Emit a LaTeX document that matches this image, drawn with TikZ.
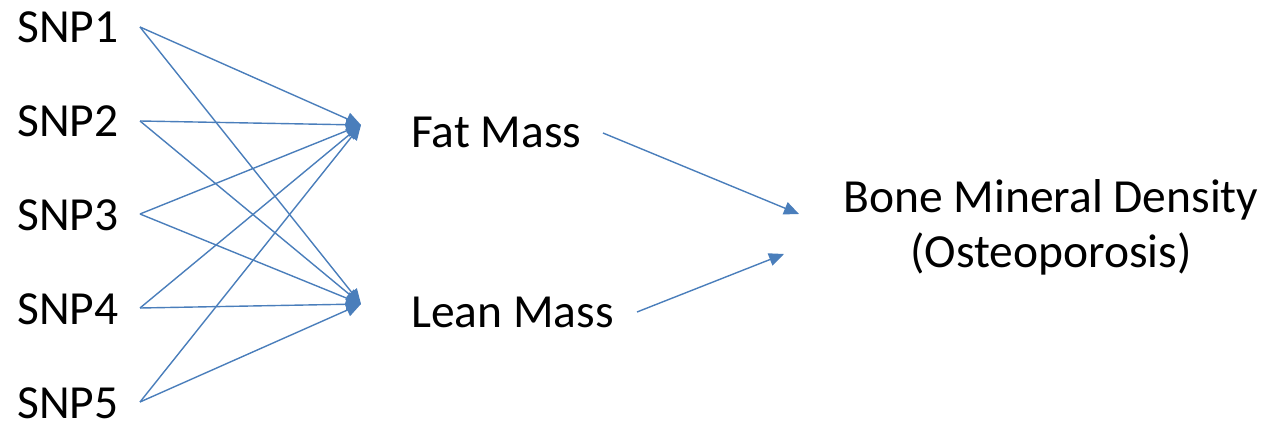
\documentclass[tikz,border=0pt]{standalone}
\usepackage{fontspec}
\setmainfont{Carlito}
\usetikzlibrary{arrows.meta}
\definecolor{lineblue}{RGB}{74,126,187}
\tikzset{
  lbl/.style={inner sep=0pt, text depth=0pt, font=\fontsize{47.5}{58}\selectfont, text=black},
  link/.style={draw=lineblue, line width=1.4pt, -{Triangle[length=15pt,width=13pt]}},
}
\begin{document}
\begin{tikzpicture}[x=1pt,y=-1pt]
\useasboundingbox (0,0) rectangle (1270,425);
% labels
\node[lbl, anchor=base west] (snp1) at (17,43) {SNP1};
\node[lbl, anchor=base west] (snp2) at (17,137) {SNP2};
\node[lbl, anchor=base west] (snp3) at (17,230) {SNP3};
\node[lbl, anchor=base west] (snp4) at (17,324) {SNP4};
\node[lbl, anchor=base west] (snp5) at (17,418) {SNP5};
\node[lbl, anchor=base west] (fat) at (411,148) {Fat Mass};
\node[lbl, anchor=base west] (lean) at (411,327) {Lean Mass};
\node[lbl, anchor=base] (bmd) at (1051,212) {Bone Mineral Density};
\node[lbl, anchor=base] (ost) at (1051,267) {(Osteoporosis)};
% connector end points
\coordinate (s1) at (140,27);
\coordinate (s2) at (140,121);
\coordinate (s3) at (140,214);
\coordinate (s4) at (140,308);
\coordinate (s5) at (140,402);
\coordinate (ftip) at (361,125);
\coordinate (ltip) at (361,304);
\coordinate (fout) at (603,133);
\coordinate (lout) at (637,312);
\coordinate (btip1) at (799,214);
\coordinate (btip2) at (784,254);
% connectors
\foreach \s in {s1,s2,s3,s4,s5} {
  \draw[link] (\s) -- (ftip);
  \draw[link] (\s) -- (ltip);
}
\draw[link] (fout) -- (btip1);
\draw[link] (lout) -- (btip2);
\end{tikzpicture}
\end{document}
